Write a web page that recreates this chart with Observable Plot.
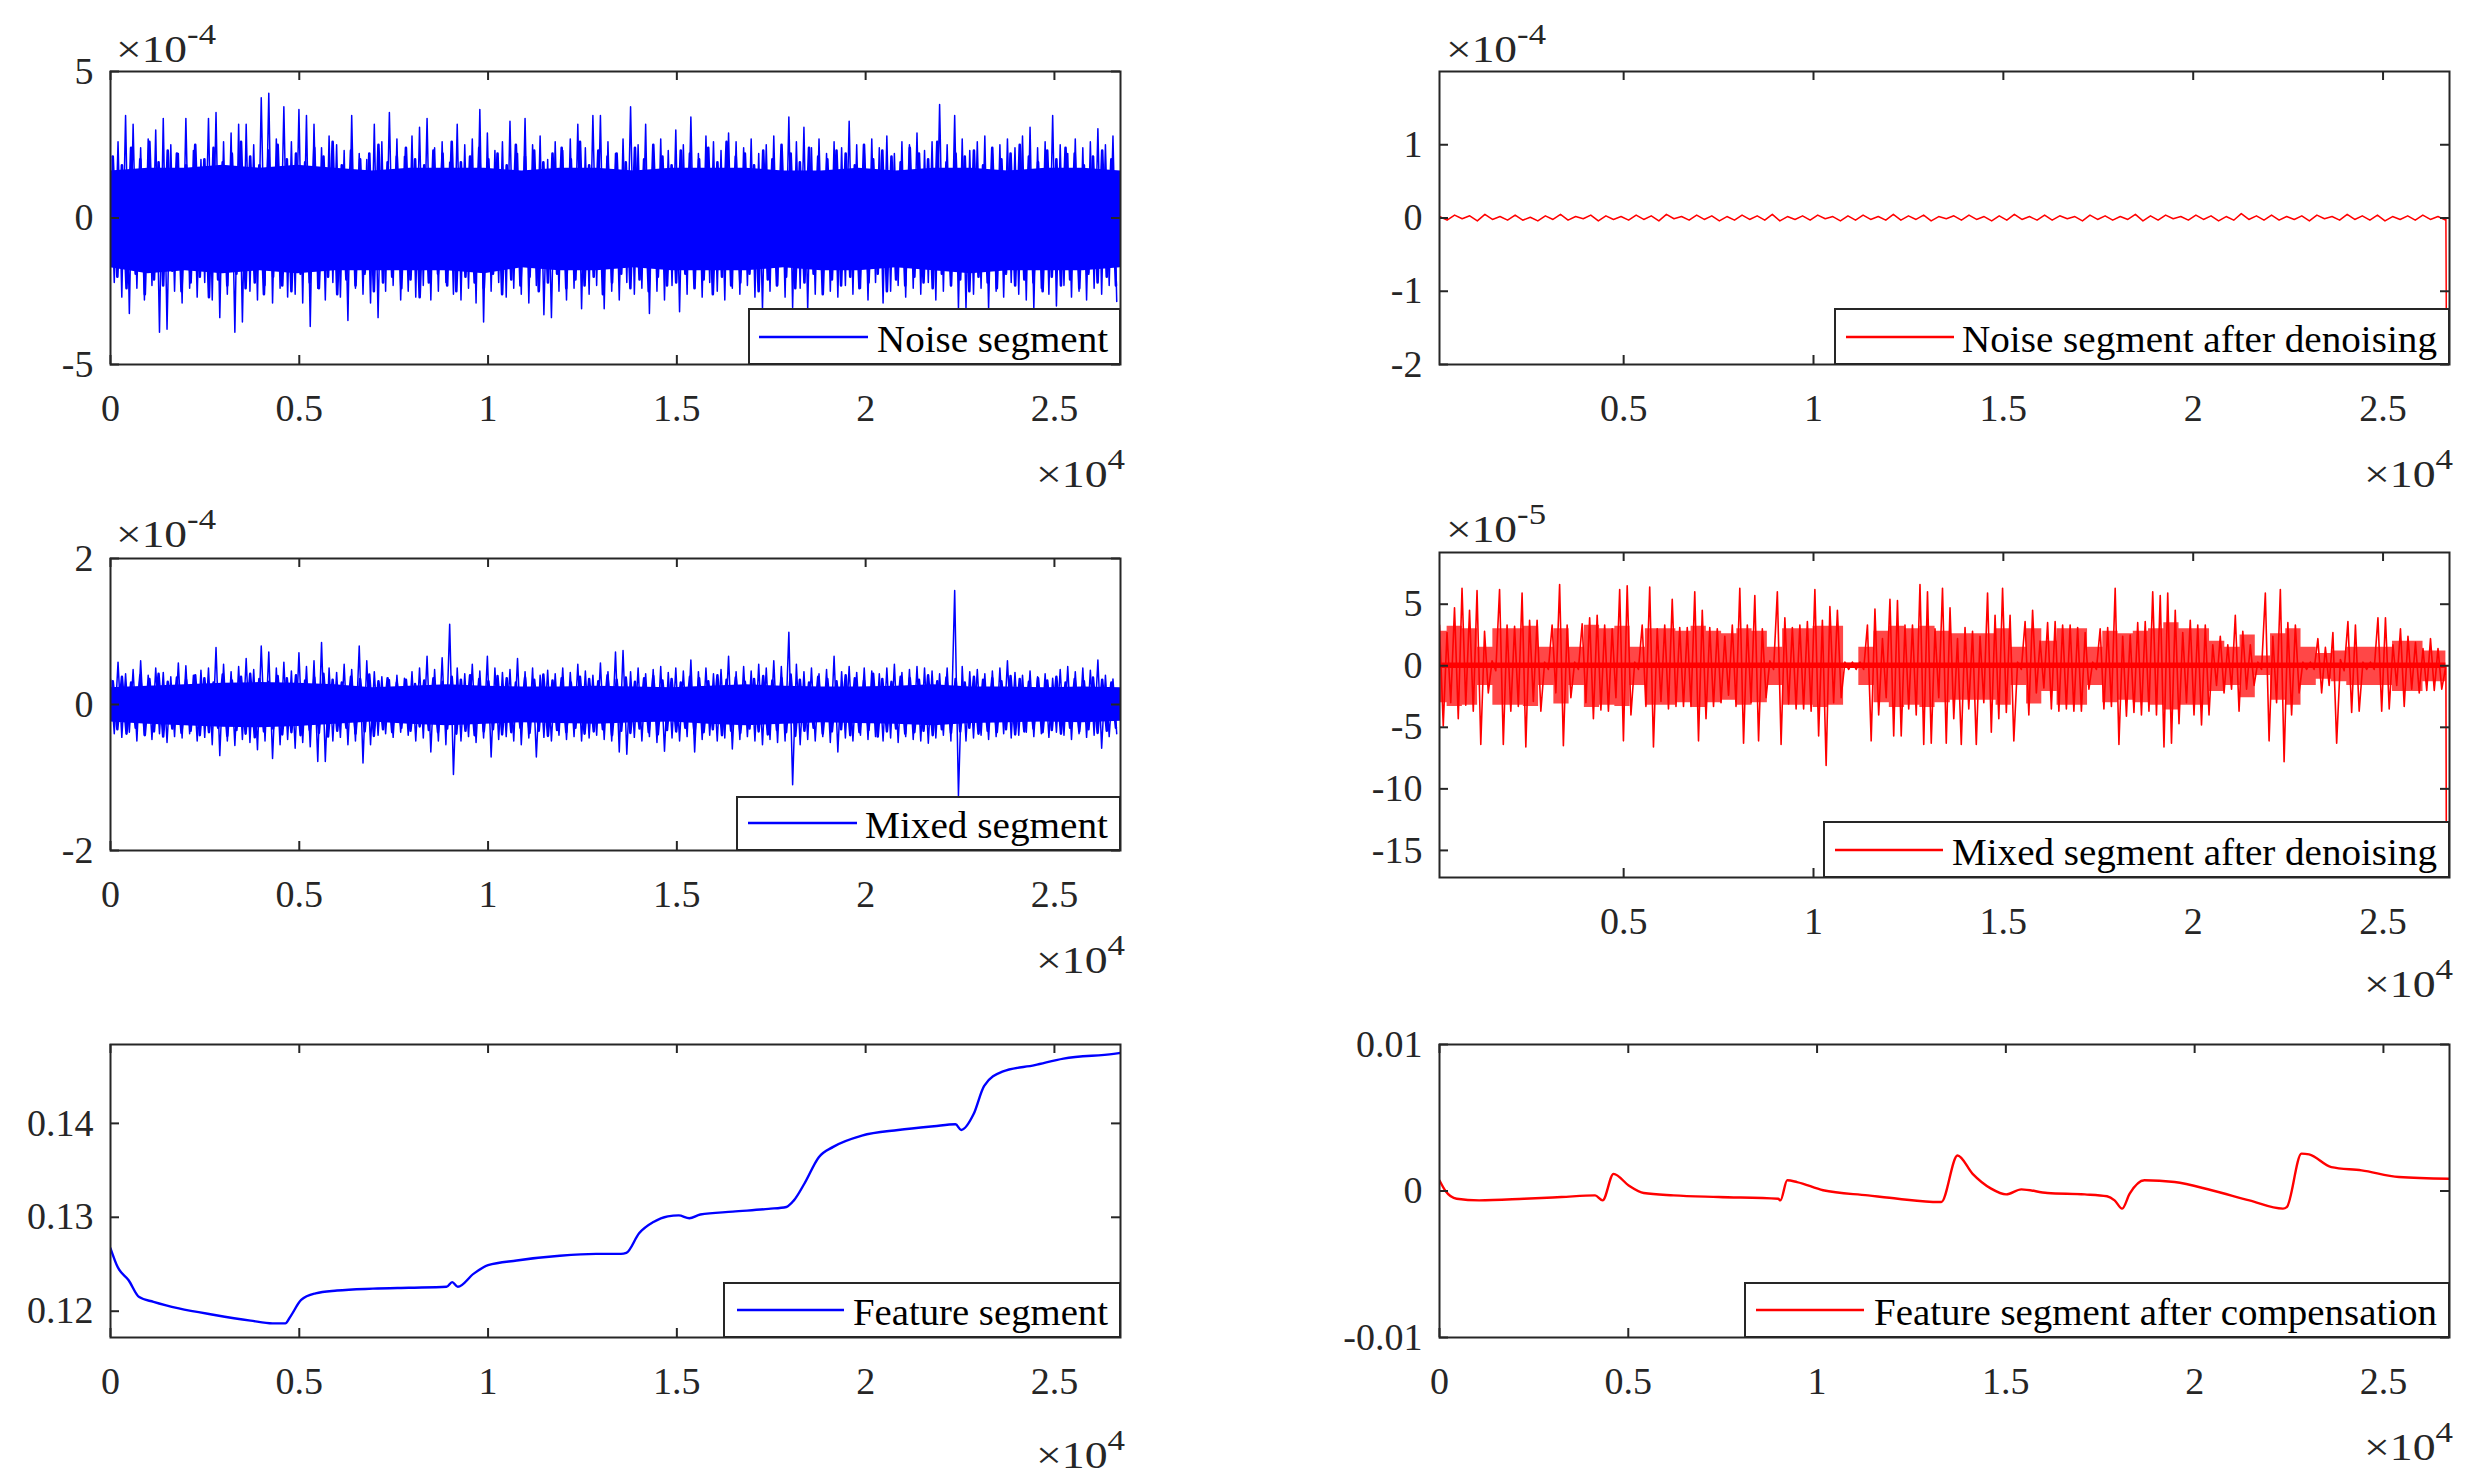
<!DOCTYPE html>
<html>
<head>
<meta charset="utf-8">
<script src="https://cdn.jsdelivr.net/npm/d3@7"></script>
<script src="https://cdn.jsdelivr.net/npm/@observablehq/plot@0.6"></script>
<style>
  html, body { margin: 0; padding: 0; background: #ffffff; }
  #root { position: relative; width: 2471px; height: 1480px; overflow: hidden; background: #ffffff;
          font-family: "Liberation Serif", "DejaVu Serif", serif; }
  #root > svg { position: absolute; }
  #root text { font-family: "Liberation Serif", "DejaVu Serif", serif; }
</style>
</head>
<body>
<div id="root"></div>
<script>
// ---------------- DATA ----------------
const xEnd = 26750;          // last sample index
const xStartDen = 150;       // first sample shown in the denoised panels
const xTicksAll = [0, 5000, 10000, 15000, 20000, 25000];
const xTicksNoZero = [5000, 10000, 15000, 20000, 25000];

// Noise segment (x1e-4): fringe peaks (upper / lower), every ~200 samples
const noiseHi = [2.0,2.6,3.5,3.2,2.4,2.7,3.0,3.4,2.5,2.2,
 3.4,2.3,2.0,3.4,3.6,2.6,2.9,3.2,3.2,2.5,
 4.1,4.26,2.7,3.8,2.6,3.7,3.5,3.2,2.4,2.8,
 2.5,2.3,3.5,2.2,2.0,3.2,2.6,3.6,2.7,2.1,
 2.8,3.1,3.4,2.4,2.6,1.9,3.2,2.5,2.7,3.7,
 2.9,2.3,2.6,3.3,2.2,3.4,2.5,2.8,2.0,2.6,
 2.3,2.7,3.2,2.4,3.5,3.5,2.6,2.2,2.7,3.8,
 2.5,3.2,2.4,2.7,2.3,3.0,2.5,3.45,2.2,2.8,
 2.6,2.3,2.9,2.6,2.4,2.7,2.2,2.5,2.8,2.3,
 3.45,2.6,3.1,2.4,2.7,2.2,2.6,2.4,3.3,2.5,
 2.3,2.7,2.4,2.8,2.2,2.6,2.5,2.9,2.3,2.6,
 3.87,2.5,3.5,2.7,2.3,2.6,2.8,2.2,2.5,2.7,
 2.4,2.8,3.1,2.4,2.6,3.5,2.5,2.2,2.7,2.4,
 2.6,3.05,2.5,2.8];
const noiseLo = [-2.2,-2.7,-3.26,-2.4,-2.8,-2.3,-3.9,-3.8,-2.5,-2.9,
 -2.4,-2.7,-2.2,-2.8,-3.4,-2.6,-3.9,-3.55,-2.5,-2.8,
 -2.3,-2.9,-2.4,-2.7,-2.6,-2.9,-3.7,-2.4,-2.8,-2.2,
 -2.7,-3.5,-2.4,-2.6,-2.9,-3.4,-2.5,-2.3,-2.8,-2.5,
 -2.7,-2.3,-2.8,-2.5,-2.2,-2.6,-2.8,-2.4,-2.9,-3.55,
 -2.5,-2.2,-2.7,-2.4,-2.6,-2.9,-2.3,-3.3,-3.4,-2.5,
 -2.8,-2.4,-3.1,-2.6,-2.3,-3.1,-2.5,-2.8,-2.2,-2.6,
 -2.4,-3.26,-2.5,-2.8,-2.3,-3.2,-2.6,-2.4,-2.7,-2.2,
 -2.5,-2.8,-2.4,-2.6,-2.3,-2.7,-3.1,-2.5,-2.3,-2.7,
 -3.05,-2.4,-3.1,-2.6,-2.2,-2.5,-2.7,-2.3,-2.6,-2.4,
 -2.8,-2.2,-2.9,-2.5,-2.3,-2.7,-2.4,-2.6,-2.2,-2.8,
 -2.5,-2.3,-3.1,-3.1,-2.6,-2.4,-3.1,-2.5,-2.7,-2.2,
 -2.6,-2.8,-3.1,-2.4,-2.6,-3.0,-2.3,-2.7,-2.5,-2.8,
 -2.4,-2.6,-2.3,-2.85];
// semi-dense band of the noise segment, every ~243 samples
const noiseMidHi = [2.1,1.8,2.4,2.0,2.6,1.9,2.3,2.2,1.8,2.5,
 2.0,2.4,1.9,2.2,2.6,2.1,1.8,2.3,2.5,2.0,
 2.2,1.9,2.4,2.1,2.6,1.8,2.3,2.0,2.2,2.5,
 1.9,2.1,2.4,2.0,1.8,2.3,2.2,2.6,1.9,2.1,
 2.4,2.0,2.2,1.8,2.5,2.1,2.3,1.9,2.2,2.4,
 2.0,2.6,1.8,2.3,2.1,2.2,1.9,2.4,2.0,2.5,
 2.1,1.8,2.3,2.2,2.0,2.4,1.9,2.6,2.1,2.2,
 1.8,2.3,2.0,2.5,2.2,1.9,2.4,2.1,2.0,2.3,
 2.2,1.8,2.5,2.0,2.3,2.1,1.9,2.4,2.2,2.0,
 2.6,1.9,2.2,2.1,2.3,1.8,2.4,2.0,2.2,2.5,
 2.1,1.9,2.3,2.0,2.4,2.2,1.8,2.1,2.3,2.0];
const noiseMidLo = [-2.0,-2.4,-1.9,-2.6,-2.1,-2.3,-1.8,-2.5,-2.2,-2.0,
 -2.7,-2.1,-2.3,-1.9,-2.4,-2.2,-2.6,-2.0,-2.3,-2.5,
 -1.9,-2.2,-2.4,-2.0,-2.6,-2.1,-2.3,-1.9,-2.5,-2.2,
 -2.0,-2.4,-2.1,-2.7,-2.2,-1.9,-2.3,-2.5,-2.0,-2.2,
 -2.4,-1.9,-2.6,-2.1,-2.3,-2.0,-2.5,-2.2,-1.9,-2.4,
 -2.1,-2.3,-2.0,-2.6,-2.2,-1.9,-2.4,-2.1,-2.5,-2.0,
 -2.3,-2.2,-1.9,-2.4,-2.1,-2.6,-2.0,-2.3,-2.2,-1.9,
 -2.5,-2.1,-2.3,-2.0,-2.4,-2.2,-1.9,-2.6,-2.1,-2.3,
 -2.0,-2.4,-2.2,-1.9,-2.5,-2.1,-2.3,-2.0,-2.2,-2.4,
 -1.9,-2.3,-2.1,-2.5,-2.0,-2.2,-2.4,-1.9,-2.3,-2.1,
 -2.2,-2.5,-2.0,-2.3,-2.1,-2.4,-1.9,-2.2,-2.0,-2.3];
// solid core of the noise segment, every ~1000 samples
const noiseCoreHi = [1.6,1.7,1.7,1.8,1.7,1.8,1.7,1.6,1.7,1.7,1.7,1.6,1.7,1.7,1.6,1.7,1.7,1.7,1.6,1.6,1.7,1.6,1.7,1.7,1.6,1.7,1.7,1.6];
const noiseCoreLo = [-1.7,-1.9,-1.8,-1.9,-1.8,-1.9,-1.8,-1.8,-1.8,-1.8,-1.9,-1.7,-1.8,-1.8,-1.7,-1.8,-1.8,-1.8,-1.7,-1.8,-1.8,-1.7,-1.8,-1.9,-1.8,-1.8,-1.8,-1.7];

// Noise segment after denoising (x1e-4), every ~200 samples, then the final drop
const noiseDen = [0.02,-0.03,0.04,-0.01,0.03,-0.04,0.05,-0.02,0.02,-0.03,
 0.04,-0.03,0.01,-0.04,0.03,-0.02,0.05,-0.03,0.02,-0.01,
 0.04,-0.04,0.03,-0.02,0.02,-0.03,0.04,-0.02,0.03,-0.04,
 0.05,-0.01,0.02,-0.03,0.04,-0.02,0.03,-0.04,0.02,-0.03,
 0.04,-0.02,0.03,-0.03,0.05,-0.04,0.02,-0.02,0.03,-0.03,
 0.04,-0.01,0.02,-0.04,0.03,-0.03,0.04,-0.02,0.02,-0.03,
 0.05,-0.03,0.03,-0.02,0.04,-0.04,0.02,-0.01,0.03,-0.03,
 0.04,-0.02,0.02,-0.04,0.03,-0.03,0.05,-0.02,0.02,-0.03,
 0.04,-0.03,0.03,-0.01,0.02,-0.04,0.04,-0.02,0.03,-0.03,
 0.02,-0.02,0.05,-0.04,0.03,-0.03,0.04,-0.01,0.02,-0.03,
 0.04,-0.02,0.03,-0.04,0.02,-0.03,0.06,-0.02,0.03,-0.03,
 0.04,-0.03,0.02,-0.02,0.03,-0.04,0.04,-0.01,0.02,-0.03,
 0.05,-0.02,0.03,-0.03,0.04,-0.04,0.02,-0.02,0.03,-0.03,
 0.04,-0.02,0.02,-0.03];
const noiseDenTailX = [26655, 26665];
const noiseDenTailY = [0, -1.24];

// Mixed segment (x1e-4)
const mixedHi = [0.35,0.58,0.42,0.48,0.6,0.4,0.5,0.44,0.38,0.57,
 0.53,0.4,0.47,0.5,0.78,0.55,0.45,0.52,0.63,0.48,
 0.8,0.72,0.5,0.58,0.46,0.71,0.52,0.6,0.85,0.5,
 0.44,0.55,0.48,0.8,0.6,0.45,0.38,0.34,0.4,0.36,
 0.45,0.5,0.66,0.48,0.64,1.1,0.5,0.42,0.55,0.46,
 0.66,0.5,0.44,0.48,0.63,0.45,0.5,0.4,0.47,0.42,
 0.5,0.44,0.55,0.46,0.4,0.57,0.45,0.72,0.74,0.45,
 0.5,0.42,0.48,0.52,0.44,0.5,0.46,0.61,0.45,0.5,
 0.42,0.48,0.66,0.45,0.52,0.46,0.55,0.5,0.6,0.52,
 0.99,0.55,0.45,0.5,0.42,0.48,0.66,0.45,0.52,0.44,
 0.5,0.46,0.42,0.5,0.55,0.44,0.48,0.52,0.5,0.46,
 0.42,0.5,1.56,0.52,0.45,0.48,0.42,0.46,0.5,0.6,
 0.44,0.4,0.46,0.38,0.42,0.36,0.48,0.52,0.45,0.5,
 0.47,0.61,0.4,0.35];
const mixedLo = [-0.4,-0.45,-0.38,-0.5,-0.42,-0.48,-0.4,-0.52,-0.44,-0.46,
 -0.4,-0.5,-0.45,-0.55,-0.7,-0.5,-0.56,-0.48,-0.52,-0.62,
 -0.5,-0.74,-0.55,-0.48,-0.6,-0.52,-0.58,-0.78,-0.78,-0.5,
 -0.45,-0.55,-0.5,-0.8,-0.55,-0.42,-0.4,-0.45,-0.38,-0.42,
 -0.5,-0.46,-0.65,-0.5,-0.55,-0.96,-0.5,-0.44,-0.52,-0.46,
 -0.72,-0.48,-0.44,-0.5,-0.55,-0.46,-0.72,-0.45,-0.5,-0.42,
 -0.48,-0.44,-0.5,-0.46,-0.42,-0.48,-0.5,-0.65,-0.68,-0.45,
 -0.5,-0.44,-0.52,-0.64,-0.46,-0.5,-0.44,-0.65,-0.48,-0.42,
 -0.5,-0.46,-0.61,-0.48,-0.44,-0.5,-0.55,-0.48,-0.52,-0.5,
 -1.1,-0.55,-0.48,-0.5,-0.44,-0.52,-0.65,-0.46,-0.5,-0.42,
 -0.48,-0.44,-0.5,-0.46,-0.52,-0.44,-0.48,-0.5,-0.53,-0.46,
 -0.42,-0.5,-1.25,-0.5,-0.46,-0.42,-0.48,-0.44,-0.4,-0.46,
 -0.42,-0.38,-0.44,-0.4,-0.45,-0.38,-0.42,-0.48,-0.4,-0.45,
 -0.42,-0.6,-0.44,-0.4];
const mixedMidHi = [0.32,0.38,0.3,0.4,0.35,0.42,0.31,0.37,0.34,0.4,
 0.36,0.3,0.41,0.33,0.38,0.42,0.35,0.31,0.39,0.36,
 0.4,0.33,0.37,0.42,0.34,0.3,0.38,0.35,0.41,0.32,
 0.36,0.3,0.34,0.28,0.33,0.36,0.31,0.38,0.34,0.4,
 0.35,0.32,0.39,0.36,0.3,0.37,0.34,0.41,0.33,0.36,
 0.3,0.38,0.35,0.32,0.4,0.34,0.37,0.31,0.36,0.39,
 0.33,0.35,0.3,0.38,0.36,0.32,0.4,0.34,0.37,0.31,
 0.35,0.39,0.33,0.36,0.41,0.34,0.3,0.38,0.35,0.32,
 0.4,0.36,0.33,0.42,0.35,0.31,0.38,0.36,0.34,0.4,
 0.32,0.37,0.35,0.3,0.38,0.34,0.36,0.32,0.39,0.35,
 0.31,0.36,0.33,0.38,0.3,0.35,0.32,0.37,0.34,0.3];
const mixedMidLo = [-0.34,-0.4,-0.32,-0.42,-0.37,-0.44,-0.33,-0.39,-0.36,-0.42,
 -0.38,-0.32,-0.43,-0.35,-0.4,-0.45,-0.37,-0.33,-0.41,-0.38,
 -0.42,-0.35,-0.39,-0.44,-0.36,-0.32,-0.4,-0.37,-0.43,-0.34,
 -0.38,-0.32,-0.36,-0.3,-0.35,-0.38,-0.33,-0.4,-0.36,-0.42,
 -0.37,-0.34,-0.41,-0.38,-0.32,-0.39,-0.36,-0.43,-0.35,-0.38,
 -0.32,-0.4,-0.37,-0.34,-0.42,-0.36,-0.39,-0.33,-0.38,-0.41,
 -0.35,-0.37,-0.32,-0.4,-0.38,-0.34,-0.42,-0.36,-0.39,-0.33,
 -0.37,-0.41,-0.35,-0.38,-0.43,-0.36,-0.32,-0.4,-0.37,-0.34,
 -0.42,-0.38,-0.35,-0.44,-0.37,-0.33,-0.4,-0.38,-0.36,-0.42,
 -0.34,-0.39,-0.37,-0.32,-0.4,-0.36,-0.38,-0.34,-0.41,-0.37,
 -0.33,-0.38,-0.35,-0.4,-0.32,-0.37,-0.34,-0.39,-0.36,-0.32];
const mixedCoreHi = [0.23,0.25,0.27,0.29,0.3,0.29,0.27,0.23,0.25,0.27,0.25,0.24,0.24,0.25,0.24,0.23,0.25,0.27,0.25,0.24,0.24,0.25,0.27,0.24,0.24,0.23,0.24,0.23];
const mixedCoreLo = [-0.24,-0.27,-0.29,-0.31,-0.32,-0.3,-0.27,-0.24,-0.27,-0.29,-0.27,-0.25,-0.26,-0.27,-0.25,-0.24,-0.27,-0.29,-0.27,-0.25,-0.26,-0.27,-0.29,-0.26,-0.25,-0.24,-0.25,-0.23];

// Mixed segment after denoising (x1e-5): spike peaks every ~200 samples
const mixDenHi = [3.3,2.7,4.7,6.3,4.5,6.1,2.8,0.4,6.2,3.3,
 3.2,5.9,3.7,3.7,0.3,3.3,6.6,3.3,0.3,3.4,
 3.9,4.1,3.3,3.0,6.2,6.5,0.3,3.3,6.4,3.0,
 3.3,5.4,3.1,3.1,6.0,4.5,3.1,3.0,2.4,3.3,
 6.3,3.3,5.7,3.0,0.4,6.0,3.9,3.1,3.3,3.6,
 6.2,3.7,4.8,4.5,0.3,0.3,0.3,3.3,4.6,2.2,
 5.4,5.3,3.3,3.3,6.6,6.0,3.0,6.3,4.7,2.2,
 3.1,2.8,2.4,5.9,4.1,6.3,4.1,0.3,3.6,4.5,
 2.0,3.5,3.6,3.3,3.3,3.1,2.7,0.3,3.0,3.1,
 6.3,2.4,2.5,3.5,3.6,6.0,5.7,5.9,4.5,2.7,
 3.7,3.3,3.3,1.7,2.4,1.7,4.1,2.8,1.7,0.3,
 5.9,2.4,6.2,3.5,3.3,0.3,0.3,2.2,1.5,2.7,
 0.5,3.6,3.3,0.3,0.3,3.9,3.9,1.7,3.0,2.4,
 1.9,1.4,2.2,1.4];
const mixDenLo = [-4.9,-3.0,-4.3,-3.2,-3.7,-6.4,-2.2,-0.4,-6.4,-3.7,
 -3.3,-6.6,-2.9,-3.7,-0.3,-2.2,-6.5,-2.6,-0.3,-3.0,
 -4.3,-3.6,-3.7,-2.6,-6.1,-4.0,-0.3,-3.3,-6.6,-2.9,
 -3.5,-3.3,-3.3,-3.3,-6.1,-4.3,-3.3,-3.0,-2.4,-3.3,
 -6.3,-3.0,-6.1,-2.6,-0.3,-6.4,-3.1,-3.5,-3.5,-3.7,
 -5.7,-8.1,-3.0,-2.6,-0.3,-0.3,-0.3,-6.1,-4.0,-2.6,
 -5.7,-5.7,-3.5,-4.0,-6.4,-6.3,-2.6,-6.3,-4.3,-6.4,
 -3.5,-6.4,-3.0,-5.4,-4.3,-3.8,-6.1,-0.3,-4.0,-2.2,
 -1.8,-3.5,-3.7,-3.5,-3.7,-3.7,-1.9,-0.3,-3.5,-3.3,
 -6.4,-4.1,-3.8,-4.0,-3.7,-4.0,-6.6,-6.3,-4.7,-3.0,
 -4.0,-4.8,-4.0,-1.6,-2.2,-1.9,-3.7,-1.9,-1.6,-0.3,
 -6.1,-3.0,-7.8,-4.0,-2.2,-0.3,-0.3,-2.2,-1.6,-6.3,
 -0.4,-3.8,-3.7,-0.3,-0.3,-3.7,-3.5,-1.6,-3.3,-1.9,
 -2.2,-2.0,-2.0,-1.9];
// dense burst envelope of the denoised mixed segment, every ~400 samples
const mixDenBurstHi = [2.8,3.2,3.0,1.5,3.0,3.0,3.2,1.5,3.0,1.5,
 3.3,3.0,3.2,1.5,3.0,3.0,2.8,3.2,2.8,2.6,
 3.0,2.8,1.5,3.0,3.0,3.2,3.2,0.2,1.5,2.8,
 3.2,3.0,3.2,2.8,2.6,2.6,2.6,3.0,1.5,3.0,
 2.0,3.0,3.0,1.5,2.8,2.6,2.8,3.0,3.5,3.0,
 3.0,2.0,1.5,2.5,0.8,2.6,3.0,1.5,1.0,1.2,
 1.5,1.5,1.5,2.0,2.0,1.2,1.2];
const mixDenBurstLo = [-3.0,-3.3,-3.2,-1.6,-3.2,-3.2,-3.3,-1.6,-3.1,-1.6,
 -3.4,-3.2,-3.3,-1.6,-3.2,-3.2,-3.0,-3.4,-3.0,-2.8,
 -3.2,-3.0,-1.6,-3.2,-3.2,-3.4,-3.2,-0.2,-1.6,-3.0,
 -3.4,-3.2,-3.4,-3.0,-2.8,-2.8,-2.8,-3.2,-1.6,-3.1,
 -2.1,-3.2,-3.2,-1.6,-3.0,-2.8,-3.0,-3.2,-3.6,-3.2,
 -3.2,-2.1,-1.6,-2.6,-0.8,-2.8,-3.2,-1.6,-1.1,-1.3,
 -1.6,-1.6,-1.6,-2.1,-2.1,-1.3,-1.3];
const mixDenFloor = 0.22;             // residual band around zero
const mixDenTailX = [26655, 26665];
const mixDenTailY = [0, -12.6];

// Feature segment
const featX = [0,190,480,760,1140,1810,2760,3710,4290,4630,4760,5050,5430,6000,6950,7900,8900,9050,9200,9620,10000,10760,11900,12860,13520,13660,14000,14380,14760,15050,15330,15620,16480,17430,17900,18100,18380,18760,19140,19900,20860,21810,22380,22530,22860,23140,23620,24480,25240,26570,26750];
const featY = [0.1267,0.1247,0.1233,0.1215,0.1210,0.1203,0.1196,0.1190,0.1187,0.1187,0.1194,0.1212,0.1219,0.1222,0.1224,0.1225,0.1226,0.1231,0.1226,0.1240,0.1249,0.1254,0.1259,0.1261,0.1261,0.1262,0.1283,0.1295,0.1301,0.1302,0.1299,0.1303,0.1306,0.1309,0.1311,0.1318,0.1336,0.1364,0.1375,0.1387,0.1393,0.1397,0.1399,0.1393,0.1410,0.1440,0.1455,0.1462,0.1469,0.1474,0.1475];

// Feature segment after compensation
const compX = [0,160,455,1050,2240,3230,4120,4320,4610,5010,5410,6200,7390,8970,9030,9210,9470,10160,11350,12140,13230,13290,13720,14120,14610,15010,15410,16100,17090,17680,17880,18080,18280,18670,19470,20450,21450,22340,22440,22830,23030,23620,24420,25410,26750];
const compY = [0.00072,0.0,-0.00053,-0.00064,-0.00053,-0.00041,-0.0003,-0.00064,0.00117,0.00038,-0.00014,-0.0003,-0.00041,-0.00053,-0.00064,0.00073,0.00061,0.00005,-0.0003,-0.00053,-0.00075,-0.00075,0.00242,0.00117,0.00016,-0.00023,0.00011,-0.00014,-0.00023,-0.00036,-0.00064,-0.0012,-0.00018,0.00073,0.00061,0.00005,-0.00064,-0.0012,-0.0011,0.00255,0.0025,0.00163,0.00141,0.00096,0.00084];

const legendLabels = ["Noise segment", "Noise segment after denoising", "Mixed segment",
  "Mixed segment after denoising", "Feature segment", "Feature segment after compensation"];

// ---------------- STYLE ----------------
const FONT = '"Liberation Serif", "DejaVu Serif", serif';
const INK = "#262626";
const BLUE = "#0000ff";
const RED = "#ff0000";

// ---------------- HELPERS ----------------
function zigzag(hi, lo, x0, x1) {
  const n = hi.length, step = (x1 - x0) / n, pts = [];
  for (let i = 0; i < n; i++) {
    pts.push({x: x0 + i * step, y: hi[i]});
    pts.push({x: x0 + (i + 0.5) * step, y: lo[i]});
  }
  return pts;
}
function band(hi, lo, x0, x1) {
  const step = (x1 - x0) / (hi.length - 1);
  return hi.map((h, i) => ({x: x0 + i * step, hi: h, lo: lo[i]}));
}
function series(ys, x0, x1) {
  const step = (x1 - x0) / (ys.length - 1);
  return ys.map((y, i) => ({x: x0 + i * step, y}));
}
function pairs(xs, ys) { return xs.map((x, i) => ({x, y: ys[i]})); }

const root = document.getElementById("root");
const mL = 120, mR = 40, mT = 70, mB = 150;

function panel({left, top, w, h, xDomain, yDomain, xTicks, yTicks, yFmt, marks}) {
  const chart = Plot.plot({
    width: w + mL + mR, height: h + mT + mB,
    marginLeft: mL, marginRight: mR, marginTop: mT, marginBottom: mB,
    style: {fontFamily: FONT, fontSize: "38px", color: INK, background: "transparent", overflow: "visible"},
    x: {domain: xDomain, label: null},
    y: {domain: yDomain, label: null},
    marks: [
      ...marks,
      Plot.tickX(xTicks, {x: d => d, insetTop: h - 9, stroke: INK, strokeWidth: 2}),
      Plot.tickX(xTicks, {x: d => d, insetBottom: h - 9, stroke: INK, strokeWidth: 2}),
      Plot.tickY(yTicks, {y: d => d, insetLeft: w - 9, stroke: INK, strokeWidth: 2}),
      Plot.tickY(yTicks, {y: d => d, insetRight: w - 9, stroke: INK, strokeWidth: 2}),
      Plot.frame({stroke: INK, strokeWidth: 2}),
      Plot.axisX(xTicks, {tickSize: 0, tickPadding: 30, label: null, tickFormat: d => String(d / 1e4), fill: INK, fontFamily: FONT}),
      Plot.axisY(yTicks, {tickSize: 0, tickPadding: 17, label: null, tickFormat: yFmt, fill: INK, fontFamily: FONT})
    ]
  });
  chart.style.left = (left - mL) + "px";
  chart.style.top = (top - mT) + "px";
  root.appendChild(chart);
}
const fmtPlain = d => String(d);

// Top-left: Noise segment
panel({left: 110, top: 71, w: 1010, h: 293, xDomain: [0, xEnd], yDomain: [-5, 5],
  xTicks: xTicksAll, yTicks: [-5, 0, 5], yFmt: fmtPlain,
  marks: [
    Plot.areaY(band(noiseCoreHi, noiseCoreLo, 0, xEnd), {x: "x", y1: "lo", y2: "hi", fill: BLUE, clip: true}),
    Plot.lineY(zigzag(noiseMidHi, noiseMidLo, 60, xEnd), {x: "x", y: "y", stroke: BLUE, strokeWidth: 2.6, clip: true}),
    Plot.lineY(zigzag(noiseHi, noiseLo, 0, xEnd), {x: "x", y: "y", stroke: BLUE, strokeWidth: 1.5, clip: true})
  ]});

// Top-right: Noise segment after denoising
panel({left: 1439, top: 71, w: 1010, h: 293, xDomain: [xStartDen, xEnd], yDomain: [-2, 2],
  xTicks: xTicksNoZero, yTicks: [-2, -1, 0, 1], yFmt: fmtPlain,
  marks: [
    Plot.lineY(series(noiseDen, xStartDen, noiseDenTailX[0] - 10).concat(pairs(noiseDenTailX, noiseDenTailY)),
      {x: "x", y: "y", stroke: RED, strokeWidth: 1.5, clip: true})
  ]});

// Middle-left: Mixed segment
panel({left: 110, top: 558, w: 1010, h: 292, xDomain: [0, xEnd], yDomain: [-2, 2],
  xTicks: xTicksAll, yTicks: [-2, 0, 2], yFmt: fmtPlain,
  marks: [
    Plot.areaY(band(mixedCoreHi, mixedCoreLo, 0, xEnd), {x: "x", y1: "lo", y2: "hi", fill: BLUE, clip: true}),
    Plot.lineY(zigzag(mixedMidHi, mixedMidLo, 60, xEnd), {x: "x", y: "y", stroke: BLUE, strokeWidth: 2.5, clip: true}),
    Plot.lineY(zigzag(mixedHi, mixedLo, 0, xEnd), {x: "x", y: "y", stroke: BLUE, strokeWidth: 1.5, clip: true})
  ]});

// Middle-right: Mixed segment after denoising
panel({left: 1439, top: 552, w: 1010, h: 325, xDomain: [xStartDen, xEnd], yDomain: [-17.2, 9.2],
  xTicks: xTicksNoZero, yTicks: [-15, -10, -5, 0, 5], yFmt: fmtPlain,
  marks: [
    Plot.areaY(band(mixDenBurstHi, mixDenBurstLo, xStartDen, mixDenTailX[0]),
      {x: "x", y1: "lo", y2: "hi", fill: RED, fillOpacity: 0.72, curve: "step", clip: true}),
    Plot.areaY([{x: xStartDen}, {x: mixDenTailX[0]}], {x: "x", y1: -mixDenFloor, y2: mixDenFloor, fill: RED, clip: true}),
    Plot.lineY(zigzag(mixDenHi, mixDenLo, xStartDen, mixDenTailX[0] - 10).concat(pairs(mixDenTailX, mixDenTailY)),
      {x: "x", y: "y", stroke: RED, strokeWidth: 1.6, clip: true})
  ]});

// Bottom-left: Feature segment
panel({left: 110, top: 1044, w: 1010, h: 293, xDomain: [0, xEnd], yDomain: [0.1172, 0.1484],
  xTicks: xTicksAll, yTicks: [0.12, 0.13, 0.14], yFmt: d => d.toFixed(2),
  marks: [
    Plot.line(pairs(featX, featY), {x: "x", y: "y", stroke: BLUE, strokeWidth: 2.4, curve: "monotone-x", clip: true})
  ]});

// Bottom-right: Feature segment after compensation
panel({left: 1439, top: 1044, w: 1010, h: 293, xDomain: [0, xEnd], yDomain: [-0.01, 0.01],
  xTicks: xTicksAll, yTicks: [-0.01, 0, 0.01], yFmt: d => (d === 0 ? "0" : String(d)),
  marks: [
    Plot.line(pairs(compX, compY), {x: "x", y: "y", stroke: RED, strokeWidth: 2.4, curve: "monotone-x", clip: true})
  ]});

// ---------------- OVERLAY: exponents + legends ----------------
const ov = d3.select(root).append("svg")
  .attr("width", 2471).attr("height", 1480)
  .style("left", "0px").style("top", "0px")
  .attr("font-family", FONT);

function expLabel(x, y, exp, anchor, len) {
  const t = ov.append("text").attr("x", x).attr("y", y).attr("font-size", 38)
    .attr("fill", INK).attr("text-anchor", anchor)
    .attr("textLength", len).attr("lengthAdjust", "spacingAndGlyphs");
  t.append("tspan").text("\u00d710");
  t.append("tspan").attr("dy", -18).attr("font-size", 29).text(exp);
}
expLabel(116, 62, "-4", "start", 100);
expLabel(1446, 62, "-4", "start", 100);
expLabel(116, 547, "-4", "start", 100);
expLabel(1446, 542, "-5", "start", 100);
expLabel(1125, 487, "4", "end", 89);
expLabel(2453, 487, "4", "end", 89);
expLabel(1125, 973, "4", "end", 89);
expLabel(2453, 997, "4", "end", 89);
expLabel(1125, 1468, "4", "end", 89);
expLabel(2453, 1460, "4", "end", 89);

function legend(x0, y0, x1, y1, lx0, lx1, tx, label, color) {
  ov.append("rect").attr("x", x0).attr("y", y0).attr("width", x1 - x0).attr("height", y1 - y0)
    .attr("fill", "#ffffff").attr("stroke", INK).attr("stroke-width", 2);
  ov.append("line").attr("x1", lx0).attr("x2", lx1).attr("y1", y1 - 27).attr("y2", y1 - 27)
    .attr("stroke", color).attr("stroke-width", 2.5);
  ov.append("text").attr("x", tx).attr("y", y1 - 12).attr("font-size", 37).attr("fill", "#000")
    .attr("textLength", x1 - 12 - tx).attr("lengthAdjust", "spacingAndGlyphs").text(label);
}
legend(749, 309, 1120, 364, 759, 868, 877, legendLabels[0], BLUE);
legend(1835, 309, 2449, 364, 1846, 1954, 1962, legendLabels[1], RED);
legend(737, 797, 1120, 850, 748, 857, 865, legendLabels[2], BLUE);
legend(1824, 822, 2449, 877, 1835, 1943, 1952, legendLabels[3], RED);
legend(724, 1283, 1120, 1337, 737, 844, 853, legendLabels[4], BLUE);
legend(1745, 1283, 2449, 1337, 1756, 1864, 1874, legendLabels[5], RED);
</script>
</body>
</html>
